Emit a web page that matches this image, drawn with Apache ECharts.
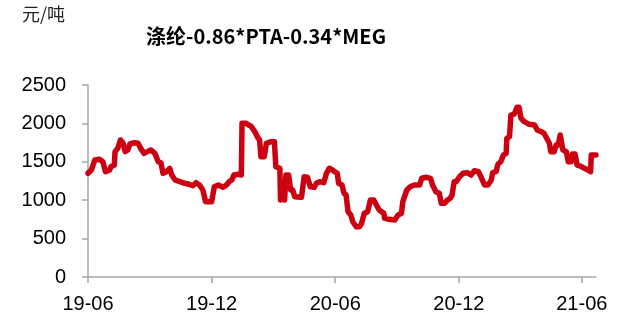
<!DOCTYPE html>
<html>
<head>
<meta charset="utf-8">
<title>涤纶价差</title>
<script src="https://cdn.jsdelivr.net/npm/echarts@6/dist/echarts.min.js"></script>
<style>
  html, body { margin: 0; padding: 0; background: #fff; }
  #main { width: 628px; height: 323px; }
</style>
</head>
<body>
<div id="main"></div>
<script type="text/javascript">
// 读图得到的点（日期, 元/吨）
var dates = [
  '2019-06-01','2019-06-06','2019-06-11','2019-06-18','2019-06-23','2019-06-27','2019-07-03','2019-07-05',
  '2019-07-10','2019-07-11','2019-07-15','2019-07-19','2019-07-23','2019-07-26','2019-07-30','2019-08-02',
  '2019-08-09','2019-08-14','2019-08-18','2019-08-23','2019-08-28','2019-09-02','2019-09-08','2019-09-13',
  '2019-09-17','2019-09-20','2019-09-25','2019-09-30','2019-10-03','2019-10-08','2019-10-15','2019-10-22',
  '2019-10-29','2019-11-03','2019-11-08','2019-11-13','2019-11-18','2019-11-22','2019-12-01','2019-12-05',
  '2019-12-11','2019-12-18','2019-12-23','2019-12-27','2019-12-31','2020-01-03','2020-01-09','2020-01-14',
  '2020-01-15','2020-01-21','2020-01-29','2020-02-03','2020-02-07','2020-02-10','2020-02-12','2020-02-17',
  '2020-02-20','2020-02-27','2020-03-03','2020-03-05','2020-03-11','2020-03-12','2020-03-15','2020-03-18',
  '2020-03-20','2020-03-24','2020-03-27','2020-03-30','2020-04-02','2020-04-12','2020-04-16','2020-04-21',
  '2020-04-25','2020-05-01','2020-05-04','2020-05-09','2020-05-15','2020-05-19','2020-05-23','2020-05-28',
  '2020-05-31','2020-06-04','2020-06-06','2020-06-11','2020-06-14','2020-06-17','2020-06-20','2020-06-24',
  '2020-06-27','2020-07-02','2020-07-07','2020-07-10','2020-07-14','2020-07-19','2020-07-23','2020-07-28',
  '2020-08-01','2020-08-05','2020-08-12','2020-08-13','2020-08-20','2020-08-28','2020-09-02','2020-09-07',
  '2020-09-09','2020-09-11','2020-09-15','2020-09-20','2020-09-26','2020-10-04','2020-10-07','2020-10-14',
  '2020-10-20','2020-10-23','2020-10-28','2020-11-02','2020-11-05','2020-11-10','2020-11-14','2020-11-18',
  '2020-11-21','2020-11-24','2020-11-27','2020-12-02','2020-12-07','2020-12-14','2020-12-19','2020-12-24',
  '2020-12-30','2021-01-03','2021-01-08','2021-01-13','2021-01-18','2021-01-20','2021-01-25','2021-01-28',
  '2021-02-01','2021-02-05','2021-02-09','2021-02-10','2021-02-14','2021-02-16','2021-02-21','2021-02-25',
  '2021-02-28','2021-03-03','2021-03-08','2021-03-15','2021-03-23','2021-03-27','2021-04-02','2021-04-06',
  '2021-04-10','2021-04-14','2021-04-16','2021-04-21','2021-04-24','2021-04-27','2021-04-30','2021-05-02',
  '2021-05-04','2021-05-09','2021-05-12','2021-05-16','2021-05-18','2021-05-22','2021-05-25','2021-05-30',
  '2021-06-05','2021-06-10','2021-06-14','2021-06-15','2021-06-22'
];
var spread = [
  1350,1393,1523,1532,1501,1371,1393,1436,
  1458,1632,1675,1784,1741,1632,1654,1732,
  1749,1741,1675,1610,1632,1654,1610,1501,
  1488,1350,1371,1415,1328,1263,1241,1220,
  1207,1189,1228,1198,1133,980,980,1176,
  1198,1168,1198,1241,1263,1328,1337,1328,
  2001,2001,1957,1892,1819,1784,1567,1567,
  1741,1762,1762,1436,1415,1002,1176,1002,
  1328,1328,1133,1133,1046,1037,1306,1298,
  1176,1168,1220,1241,1228,1350,1415,1393,
  1371,1350,1220,1198,1090,1068,850,807,
  720,655,655,699,829,850,1002,1002,
  937,872,829,764,751,742,807,829,
  980,1002,1133,1176,1198,1198,1285,1298,
  1285,1198,1111,1090,959,959,1002,1024,
  1068,1241,1241,1306,1350,1358,1328,1384,
  1371,1298,1198,1198,1263,1358,1371,1471,
  1501,1588,1610,1806,1827,2109,2122,2209,
  2209,2066,2022,1988,1979,1914,1892,1871,
  1806,1741,1632,1632,1719,1719,1849,1827,
  1654,1632,1501,1501,1601,1601,1458,1445,
  1415,1393,1371,1588,1588
];
var xTicks = ['2019-06-01', '2019-12-01', '2020-06-01', '2020-12-01', '2021-06-01'];
var xRange = ['2019-06-01', '2021-06-22'];
var yTicks = [0, 500, 1000, 1500, 2000, 2500];

function toTime(d) { return Date.parse(d + 'T00:00:00Z'); }
var seriesData = dates.map(function (d, i) { return [toTime(d), spread[i]]; });
var tickTimes = xTicks.map(toTime);

var myChart = echarts.init(document.getElementById('main'));
var option = {
    animation: false,
    graphic: [{
        type: 'text', left: 22, top: 5,
        style: { text: '元/吨', font: '18px "Noto Sans CJK SC"', fill: '#222' }
    }],
    title: {
        text: '涤纶-0.86*PTA-0.34*MEG',
        left: 261, top: 21, textAlign: 'center',
        textStyle: { fontFamily: '"Noto Sans CJK SC"', fontSize: 20, fontWeight: 'bold', color: '#000' }
    },
    grid: { left: 88, right: 32, top: 85, bottom: 46, containLabel: false },
    xAxis: {
        type: 'value',
        min: toTime(xRange[0]),
        max: toTime(xRange[1]),
        splitLine: { show: false },
        axisLine: { lineStyle: { color: '#a6a6a6', width: 1.5 } },
        axisTick: { show: true, length: 6, lineStyle: { color: '#a6a6a6', width: 1.5 }, customValues: tickTimes },
        axisLabel: {
            customValues: tickTimes,
            margin: 17,
            fontFamily: '"Liberation Sans"', fontSize: 20, color: '#000',
            formatter: function (v) {
                var d = new Date(v);
                var y = String(d.getUTCFullYear()).slice(2);
                var m = ('0' + (d.getUTCMonth() + 1)).slice(-2);
                return y + '-' + m;
            }
        }
    },
    yAxis: {
        type: 'value',
        min: yTicks[0], max: yTicks[yTicks.length - 1], interval: 500,
        splitLine: { show: false },
        axisLine: { show: true, lineStyle: { color: '#a6a6a6', width: 1.5 } },
        axisTick: { show: true, length: 6, lineStyle: { color: '#a6a6a6', width: 1.5 } },
        axisLabel: {
            margin: 22, fontFamily: '"Liberation Sans"', fontSize: 20, color: '#000',
            formatter: function (v) { return String(v); }
        }
    },
    series: [{
        type: 'line',
        data: seriesData,
        showSymbol: false,
        symbol: 'none',
        lineStyle: { color: '#cc0010', width: 5.5, join: 'round', cap: 'round' }
    }]
};
myChart.setOption(option);
</script>
</body>
</html>
